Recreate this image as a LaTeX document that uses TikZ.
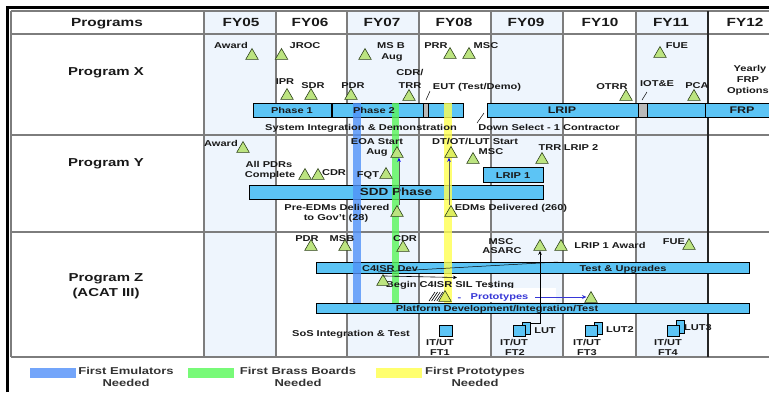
\documentclass[tikz,border=0pt]{standalone}
\usepackage{fontspec}
\setmainfont[FakeStretch=1.3]{Liberation Sans}
\usetikzlibrary{shapes.geometric,arrows.meta}
\definecolor{shadec}{RGB}{238,245,253}
\definecolor{gridc}{RGB}{125,125,125}
\definecolor{barc}{RGB}{92,196,245}
\definecolor{trif}{RGB}{188,228,128}
\definecolor{trifY}{RGB}{222,238,95}
\definecolor{trid}{RGB}{45,65,25}
\definecolor{stripeB}{RGB}{80,145,248}
\definecolor{stripeG}{RGB}{90,245,90}
\definecolor{stripeY}{RGB}{255,255,80}
\definecolor{lgB}{RGB}{115,165,250}
\definecolor{lgG}{RGB}{120,250,120}
\definecolor{lgY}{RGB}{255,255,110}
\definecolor{protoc}{RGB}{55,55,215}
\definecolor{txtc}{RGB}{25,25,25}
\tikzset{
  lbl/.style={font=\fontsize{8.5}{9.5}\selectfont\bfseries, inner sep=0pt, anchor=base, yshift=-3.05pt, text=txtc},
  barlbl/.style={lbl},
  biglbl/.style={font=\fontsize{9.6}{11}\selectfont\bfseries, inner sep=0pt, anchor=base, yshift=-3.45pt, text=txtc},
  sddlbl/.style={font=\fontsize{10.4}{12}\selectfont\bfseries, inner sep=0pt, anchor=base, yshift=-3.75pt, text=txtc},
  hdr/.style={font=\fontsize{11.8}{13}\selectfont\bfseries, inner sep=0pt, anchor=base, yshift=-4.2pt, text=txtc},
  prog/.style={font=\fontsize{11.5}{13}\selectfont\bfseries, inner sep=0pt, anchor=base, yshift=-4.1pt, text=txtc},
  lgd/.style={font=\fontsize{10}{11}\selectfont\bfseries, inner sep=0pt, anchor=base, yshift=-3.6pt, text=black!80},
  ms/.style={regular polygon, regular polygon sides=3, minimum size=14.5pt, inner sep=0pt,
    draw=trid, fill=trif, line width=0.6pt, yshift=-1.8pt},
  msY/.style={ms, fill=trifY},
  bar/.style={draw=black, fill=barc, line width=0.6pt},
  graybox/.style={draw=black, fill=gray!55, line width=0.5pt},
  gline/.style={draw=gridc, line width=1.4pt},
  stripe/.style={fill opacity=0.8},
  leader/.style={draw=black, line width=0.5pt},
  yarr/.style={draw=gray!70!black, line width=0.9pt, -{Stealth[length=4pt,width=3.5pt,color=blue]}},
  thinarr/.style={draw=black, line width=0.6pt, -{Stealth[length=4pt,width=3.5pt]}},
  protoarr/.style={draw=protoc, line width=1pt, -{Stealth[length=4.5pt,width=4pt]}},
  ftbox/.style={draw=black, fill=barc, line width=0.5pt}
}
\begin{document}
\begin{tikzpicture}[x=1pt,y=-1pt]
\useasboundingbox (0,0) rectangle (769,392);
\fill[white] (0,0) rectangle (769,392);
% column shading
\fill[shadec] (204,11) rectangle (276,357);
\fill[shadec] (347,11) rectangle (419,357);
\fill[shadec] (491,11) rectangle (563,357);
\fill[shadec] (636,11) rectangle (708,357);
% grid
\foreach \yy in {11,34,135,232,357} {\draw[gline] (11,\yy) -- (769,\yy);}
\foreach \xx in {11,204,276,347,419,491,563,636} {\draw[gline] (\xx,11) -- (\xx,357);}
\draw[gline, draw=black!85] (708,11) -- (708,357);
% outer frame
\draw[black, line width=2.2pt] (7.5,392) -- (7.5,7.5) -- (769,7.5);

% ---------- bars ----------
\draw[bar] (253,103) rectangle (463,117);
\draw[black, line width=1.6pt] (332,103) -- (332,117);
\draw[graybox] (423,103) rectangle (428,117);
\draw[bar] (487,103) rectangle (705,117);
\draw[graybox] (638,103) rectangle (647,117);
\draw[bar] (705,103) rectangle (775,117);
\draw[bar] (483,167) rectangle (543,182);
\draw[bar] (249,185) rectangle (543,199);
\draw[bar] (316,262) rectangle (749,273);
\draw[bar] (316,303) rectangle (749,313);

% stripes
\fill[stripeB, stripe] (353,103) rectangle (361,303);
\fill[stripeG, stripe] (392,103) rectangle (399,303);
\fill[stripeY, stripe] (444,103) rectangle (452,303);

% header
\node[hdr] (hProg) at (107,22) {Programs};
\node[hdr] (h05) at (241,22) {FY05};
\node[hdr] (h06) at (310,22) {FY06};
\node[hdr] (h07) at (382,22) {FY07};
\node[hdr] (h08) at (454,22) {FY08};
\node[hdr] (h09) at (526,22) {FY09};
\node[hdr] (h10) at (600,22) {FY10};
\node[hdr] (h11) at (671,22) {FY11};
\node[hdr] (h12) at (745,22) {FY12};

% program labels
\node[prog] (pX) at (106,71) {Program X};
\node[prog] (pY) at (106,162) {Program Y};
\node[prog] (pZ1) at (106,277) {Program Z};
\node[prog] (pZ2) at (106,292) {(ACAT III)};

% ---------- Program X ----------
\node[barlbl] (ph1) at (292,110.5) {Phase 1};
\node[barlbl] (ph2) at (374,110.5) {Phase 2};
\node[biglbl] (lrip) at (562,110.5) {LRIP};
\node[biglbl] (frp) at (742,110.5) {FRP};

\node[lbl] (tAward) at (231,45) {Award};
\node[lbl] (tJroc) at (305,45) {JROC};
\node[lbl] (tMsb1) at (391,45) {MS B};
\node[lbl] (tMsb2) at (392,56) {Aug};
\node[lbl] (tPrr) at (436,45) {PRR};
\node[lbl] (tMsc) at (486,45) {MSC};
\node[lbl] (tFue) at (677,45) {FUE};
\node[lbl] (tIpr) at (285,81) {IPR};
\node[lbl] (tSdr) at (313,85) {SDR};
\node[lbl] (tPdr) at (353,85) {PDR};
\node[lbl] (tCdr1) at (410,72) {CDR/};
\node[lbl] (tCdr2) at (410,85) {TRR};
\node[lbl] (tEut) at (477,86) {EUT (Test/Demo)};
\node[lbl] (tOtrr) at (612,86) {OTRR};
\node[lbl] (tIot) at (657,83) {IOT\&E};
\node[lbl] (tPca) at (697,85) {PCA};
\node[lbl] (tYr1) at (750,68) {Yearly};
\node[lbl] (tYr2) at (748,79) {FRP};
\node[lbl] (tYr3) at (748,90) {Options};
\node[lbl] (tSid) at (361,127) {System Integration \& Demonstration};
\node[lbl] (tDs) at (549,127) {Down Select - 1 Contractor};

\node[ms] (xT1) at (252,54) {};
\node[ms] (xT2) at (281.5,54) {};
\node[ms] (xT3) at (365,54) {};
\node[ms] (xT4) at (450,53) {};
\node[ms] (xT5) at (469,53) {};
\node[ms] (xT6) at (660,52) {};
\node[ms] (xT7) at (287,94) {};
\node[ms] (xT8) at (311,94) {};
\node[ms] (xT9) at (351,94) {};
\node[ms] (xT10) at (409,95) {};
\node[ms] (xT11) at (626,95) {};
\node[ms] (xT12) at (694,95) {};

\coordinate (eutA) at (426,100); \coordinate (eutB) at (430,91);
\draw[leader] (eutA) -- (eutB);
\coordinate (iotA) at (642,100); \coordinate (iotB) at (647,92);
\draw[leader] (iotA) -- (iotB);
\coordinate (dsA) at (477,123); \coordinate (dsB) at (484,113);
\draw[leader] (dsA) -- (dsB);

% ---------- Program Y ----------
\node[barlbl] (lrip1) at (513,175) {LRIP 1};
\node[sddlbl] (sdd) at (396,192) {SDD Phase};

\node[lbl] (yAward) at (221,143) {Award};
\node[lbl] (yAll1) at (269,164) {All PDRs};
\node[lbl] (yAll2) at (270,174) {Complete};
\node[lbl] (yCdr) at (334,172) {CDR};
\node[lbl] (yEoa1) at (377,141) {EOA Start};
\node[lbl] (yEoa2) at (377,151) {Aug};
\node[lbl] (yFqt) at (368,174) {FQT};
\node[lbl] (yDt) at (475,141) {DT/OT/LUT Start};
\node[lbl] (yMsc) at (491,151) {MSC};
\node[lbl] (yTrr) at (550,147) {TRR};
\node[lbl] (yLrip2) at (581,147) {LRIP 2};
\node[lbl] (yPre1) at (337,207) {Pre-EDMs Delivered};
\node[lbl] (yPre2) at (336,217) {to Gov't (28)};
\node[lbl] (yEdm) at (511,207) {EDMs Delivered (260)};

\node[ms] (yT1) at (243,147) {};
\node[ms] (yT2) at (305,174) {};
\node[ms] (yT3) at (318,174) {};
\node[ms] (eoaT) at (397,152) {};
\node[ms] (fqtT) at (386,173) {};
\node[msY] (dtT) at (451,152) {};
\node[ms] (yT7) at (473,158) {};
\node[ms] (yT8) at (542,158) {};
\node[ms] (preT) at (397,211) {};
\node[msY] (edmT) at (451,211) {};

\draw[yarr] ([xshift=2pt]preT.north) -- ([xshift=2pt]eoaT.south);
\draw[yarr] ([xshift=-2pt]edmT.north) -- ([xshift=-2pt]dtT.south);

% ---------- Program Z ----------
\node[barlbl] (c4) at (390,268) {C4ISR Dev};
\node[barlbl] (tu) at (623,268) {Test \& Upgrades};
\node[barlbl] (pdit) at (497,308.5) {Platform Development/Integration/Test};
\coordinate (c4a) at (378,272); \coordinate (c4b) at (558,262);
\draw[leader] (c4a) -- (c4b);

\node[lbl] (zPdr) at (307,238) {PDR};
\node[lbl] (zMsb) at (342,238) {MSB};
\node[lbl] (zCdr) at (405,238) {CDR};
\node[lbl] (zMsc1) at (501,241) {MSC};
\node[lbl] (zMsc2) at (502,250) {ASARC};
\node[lbl] (zLa) at (610,245) {LRIP 1 Award};
\node[lbl] (zFue) at (674,241) {FUE};
\node[lbl] (zBegin) at (450,284) {Begin C4ISR SIL Testing};
\fill[white] (455,288) rectangle (556,302);
\node[lbl, text=protoc] (zDash) at (459.5,297) {-};
\node[lbl, text=protoc] (zProto) at (499.5,296) {Prototypes};
\node[lbl] (zSos) at (351,333) {SoS Integration \& Test};

\node[ms] (zT1) at (311,245) {};
\node[ms] (zT2) at (345,245) {};
\node[ms] (zT3) at (403,246) {};
\node[ms] (ascT) at (540,245) {};
\node[ms] (zT5) at (561,245) {};
\node[ms] (zT6) at (689,244) {};
\node[ms] (beginT) at (383,280) {};
\foreach \i in {0,1,2,3,4} {\draw[black, line width=0.6pt] (429+2.6*\i,301) -- (435+2.6*\i,292);}
\node[msY] (yelT) at (445,296) {};
\node[ms] (protoT) at (591,297) {};

\coordinate (silE) at (457,277.5);
\draw[thinarr] ([yshift=-2pt]beginT.north) -- (silE);
\coordinate (protoS) at (535,297);
\draw[protoarr] (protoS) -- (protoS -| protoT.west);

% field tests
\draw[ftbox] (439,325) rectangle (452,336);
\node[lbl] (f1a) at (440,342) {IT/UT};
\node[lbl] (f1b) at (440,352) {FT1};

\draw[ftbox] (522,322) rectangle (530,334);
\draw[ftbox] (513,325) rectangle (525,336);
\node[lbl] (f2l) at (545,330) {LUT};
\node[lbl] (f2a) at (514,342) {IT/UT};
\node[lbl] (f2b) at (515,352) {FT2};

\draw[ftbox] (594,322) rectangle (602,334);
\draw[ftbox] (585,325) rectangle (597,336);
\node[lbl] (f3l) at (620,329) {LUT2};
\node[lbl] (f3a) at (587,342) {IT/UT};
\node[lbl] (f3b) at (587,352) {FT3};

\draw[ftbox] (676,320) rectangle (684,333);
\draw[ftbox] (667,325) rectangle (679,336);
\node[lbl] (f4l) at (698,327) {LUT3};
\node[lbl] (f4a) at (668,342) {IT/UT};
\node[lbl] (f4b) at (668,352) {FT4};

\coordinate (lutS) at (530,323);
\draw[thinarr] (lutS) -| (ascT.south);

% legend
\fill[lgB] (30,368) rectangle (76,378);
\node[lgd] (lg1a) at (126,371) {First Emulators};
\node[lgd] (lg1b) at (126,383) {Needed};
\fill[lgG] (188,368) rectangle (234,378);
\node[lgd] (lg2a) at (298,371) {First Brass Boards};
\node[lgd] (lg2b) at (298,383) {Needed};
\fill[lgY] (376,368) rectangle (422,378);
\node[lgd] (lg3a) at (475,371) {First Prototypes};
\node[lgd] (lg3b) at (475,383) {Needed};
\end{tikzpicture}
\end{document}
